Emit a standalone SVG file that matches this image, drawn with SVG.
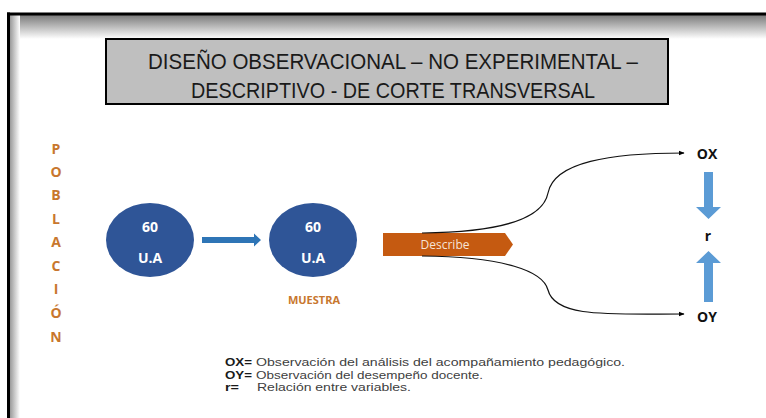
<svg xmlns="http://www.w3.org/2000/svg" width="766" height="418" viewBox="0 0 766 418">
  <defs>
    <linearGradient id="gTop" x1="0" y1="0" x2="0" y2="1">
      <stop offset="0" stop-color="#7a7a7a"/>
      <stop offset="1" stop-color="#ffffff"/>
    </linearGradient>
    <linearGradient id="gLeft" x1="0" y1="0" x2="1" y2="0">
      <stop offset="0" stop-color="#9a9a9a"/>
      <stop offset="1" stop-color="#ffffff"/>
    </linearGradient>
    <marker id="ah" viewBox="0 0 10 10" refX="9" refY="5" markerWidth="6" markerHeight="6" orient="auto" markerUnits="userSpaceOnUse">
      <path d="M0,1 L10,5 L0,9 Z" fill="#000"/>
    </marker>
    <style>
      .title { font-family: "Liberation Sans", Arial, sans-serif; font-size: 22px; fill: #1a1a1a; }
      .pob { font-family: "Open Sans", "Liberation Sans", sans-serif; font-size: 14px; font-weight: bold; fill: #C8772E; text-anchor: middle; }
      .ell { fill: #2F5597; }
      .ua { font-family: "Open Sans", "Liberation Sans", sans-serif; font-size: 14px; font-weight: bold; fill: #ffffff; text-anchor: middle; }
      .lbl { font-family: "Open Sans", "Liberation Sans", sans-serif; font-size: 14px; font-weight: bold; fill: #111; text-anchor: middle; }
      .leg { font-family: "Liberation Sans", Arial, sans-serif; font-size: 10.5px; fill: #404040; }
      .legb { font-family: "Liberation Sans", Arial, sans-serif; font-size: 10.5px; font-weight: bold; fill: #1a1a1a; }
      .curve { fill: none; stroke: #111; stroke-width: 1.2; }
      .barrow { fill: #5B9BD5; }
    </style>
  </defs>

  <rect x="0" y="0" width="766" height="418" fill="#ffffff"/>

  <!-- frame -->
  <g id="frame">
    <rect x="10" y="15" width="756" height="24" fill="url(#gTop)"/>
    <rect x="10" y="15" width="10" height="403" fill="url(#gLeft)"/>
    <rect x="7" y="12.5" width="759" height="3" fill="#000"/>
    <rect x="7" y="12.5" width="3" height="406" fill="#000"/>
  </g>

  <!-- title -->
  <g id="title">
    <rect x="106" y="39" width="562" height="65" fill="#BFBFBF" stroke="#000" stroke-width="2"/>
    <text class="title" x="393" y="69" text-anchor="middle" textLength="490" lengthAdjust="spacingAndGlyphs">DISEÑO OBSERVACIONAL – NO EXPERIMENTAL –</text>
    <text class="title" x="393" y="98" text-anchor="middle" textLength="404" lengthAdjust="spacingAndGlyphs">DESCRIPTIVO - DE CORTE TRANSVERSAL</text>
  </g>

  <!-- poblacion -->
  <g id="poblacion">
    <text class="pob" x="56" y="154">P</text>
    <text class="pob" x="56" y="177">O</text>
    <text class="pob" x="56" y="200">B</text>
    <text class="pob" x="56" y="224">L</text>
    <text class="pob" x="56" y="247">A</text>
    <text class="pob" x="56" y="271">C</text>
    <text class="pob" x="56" y="294">I</text>
    <text class="pob" x="56" y="318">Ó</text>
    <text class="pob" x="56" y="342">N</text>
  </g>

  <!-- node 1 -->
  <g id="node-poblacion">
    <ellipse class="ell" cx="150" cy="240" rx="44" ry="37"/>
    <text class="ua" x="150" y="232">60</text>
    <text class="ua" x="150" y="263">U.A</text>
  </g>

  <!-- node 2 -->
  <g id="node-muestra">
    <ellipse class="ell" cx="313" cy="240" rx="44" ry="37"/>
    <text class="ua" x="313" y="232">60</text>
    <text class="ua" x="313" y="263">U.A</text>
    <text x="314" y="304" font-family="'Open Sans', 'Liberation Sans', sans-serif" font-size="11" font-weight="bold" fill="#C8772E" text-anchor="middle">MUESTRA</text>
  </g>

  <!-- describe -->
  <g id="node-describe">
    <path d="M383,233 L505,233 L513,244.5 L505,256 L383,256 Z" fill="#C55A11"/>
    <text x="445" y="249" font-family="'Open Sans', 'Liberation Sans', sans-serif" font-size="12" fill="#F6E3D6" text-anchor="middle">Describe</text>
  </g>

  <!-- labels -->
  <g id="node-ox"><text class="lbl" x="707" y="159">OX</text></g>
  <g id="node-r"><text class="lbl" x="708" y="241">r</text></g>
  <g id="node-oy"><text class="lbl" x="707" y="322">OY</text></g>

  <!-- connectors -->
  <g id="connectors">
    <path d="M202,237 L254,237 L254,233.5 L261,240 L254,246.5 L254,243 L202,243 Z" fill="#2E75B6"/>
    <path class="curve" marker-end="url(#ah)" d="M422,233 C505,232 543,218 548,193 C554,162 610,153 684,153"/>
    <path class="curve" marker-end="url(#ah)" d="M422,256 C505,257 543,271 548,290 C555,318 610,314 684,314"/>
    <path class="barrow" d="M704,172 L713,172 L713,207 L721,207 L708.5,219 L696,207 L704,207 Z"/>
    <path class="barrow" d="M704,302 L713,302 L713,263 L721,263 L708.5,251 L696,263 L704,263 Z"/>
  </g>

  <!-- legend -->
  <g id="legend">
    <text class="legb" x="225" y="366" textLength="27" lengthAdjust="spacingAndGlyphs">OX=</text>
    <text class="leg" x="256" y="366" textLength="369" lengthAdjust="spacingAndGlyphs">Observación del análisis del acompañamiento  pedagógico.</text>
    <text class="legb" x="225" y="378.5" textLength="27" lengthAdjust="spacingAndGlyphs">OY=</text>
    <text class="leg" x="256" y="378.5" textLength="227" lengthAdjust="spacingAndGlyphs">Observación del desempeño  docente.</text>
    <text class="legb" x="225" y="391" textLength="14" lengthAdjust="spacingAndGlyphs">r=</text>
    <text class="leg" x="257" y="391" textLength="154" lengthAdjust="spacingAndGlyphs">Relación entre variables.</text>
  </g>
</svg>
